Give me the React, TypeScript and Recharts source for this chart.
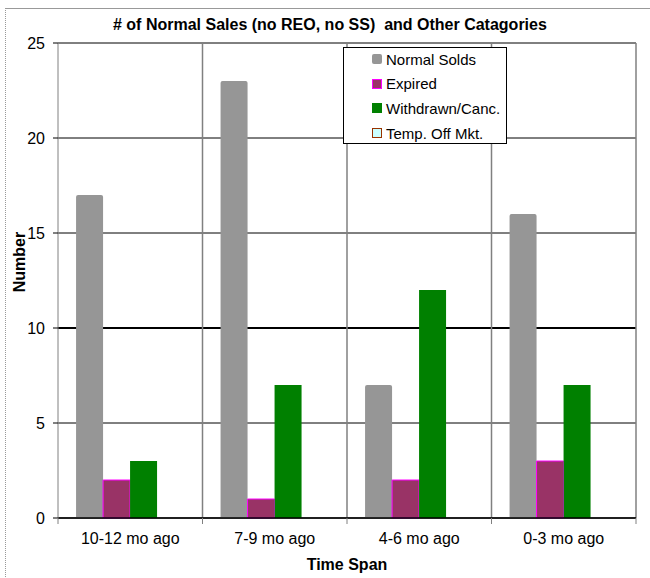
import React from 'react';
import { BarChart, Bar, XAxis, YAxis, CartesianGrid, ReferenceLine, Legend } from 'recharts';

const categories = ['10-12 mo ago', '7-9 mo ago', '4-6 mo ago', '0-3 mo ago'];
const normalSolds = [17, 23, 7, 16];
const expired = [2, 1, 2, 3];
const withdrawn = [3, 7, 12, 7];
const tempOffMkt = [0, 0, 0, 0];
const yTicks = [0, 5, 10, 15, 20, 25];
const emphasisTicks = [10];

const data = categories.map((c, i) => ({
  cat: c,
  normal: normalSolds[i],
  expired: expired[i],
  withdrawn: withdrawn[i],
  temp: tempOffMkt[i],
}));

const series = [
  { key: 'normal', name: 'Normal Solds', fill: '#969696', stroke: 'none', radius: 2 },
  { key: 'expired', name: 'Expired', fill: '#993366', stroke: '#FF00FF', radius: 0 },
  { key: 'withdrawn', name: 'Withdrawn/Canc.', fill: '#008000', stroke: 'none', radius: 0 },
  { key: 'temp', name: 'Temp. Off Mkt.', fill: '#CCFFFF', stroke: '#993300', radius: 0 },
];

const FONT = '"Liberation Sans", Arial, sans-serif';

const LegendBox = () => (
  <div
    style={{
      position: 'relative',
      width: 164,
      height: 97,
      border: '1px solid #000',
      background: '#fff',
      boxSizing: 'border-box',
      fontFamily: FONT,
      fontSize: 15,
      color: '#000',
    }}
  >
    {series.map((s, i) => (
      <div
        key={s.key}
        style={{ position: 'absolute', left: 28, top: 1 + i * 24.7, height: 20, display: 'flex', alignItems: 'center' }}
      >
        <span
          style={{
            display: 'inline-block',
            width: s.stroke === 'none' ? 10 : 8,
            height: s.stroke === 'none' ? 10 : 8,
            background: s.fill,
            border: s.stroke === 'none' ? 'none' : `1px solid ${s.stroke}`,
            borderRadius: s.radius ? 2 : 0,
            marginRight: 4,
          }}
        />
        <span style={{ whiteSpace: 'nowrap' }}>{s.name}</span>
      </div>
    ))}
  </div>
);

const CatTick = (props: any) => {
  const { x, y, payload, index, visibleTicksCount } = props;
  const half = payload && typeof payload.offset === 'number' ? payload.offset : 0;
  const axisY = y - 15;
  const isLast = visibleTicksCount ? index === visibleTicksCount - 1 : index === categories.length - 1;
  return (
    <g>
      {half > 0 && (
        <line x1={x - half} x2={x - half} y1={axisY} y2={axisY + 6} stroke="#808080" />
      )}
      {half > 0 && isLast && (
        <line x1={x + half} x2={x + half} y1={axisY} y2={axisY + 6} stroke="#808080" />
      )}
      <text x={x} y={y} dy="0.71em" textAnchor="middle" fontSize={16} fill="#000" fontFamily={FONT}>
        {payload.value}
      </text>
    </g>
  );
};

export default function App() {
  return (
    <div style={{ position: 'absolute', left: 0, top: 0, width: 650, height: 578, background: '#fff', overflow: 'hidden' }}>
      <div
        style={{
          position: 'absolute',
          left: 5,
          top: 8,
          width: 660,
          height: 600,
          borderLeft: '1px dotted #999',
          borderTop: '1px solid #999',
        }}
      />
      <div
        style={{
          position: 'absolute',
          left: 113,
          top: 16,
          fontFamily: FONT,
          fontWeight: 'bold',
          fontSize: 16,
          whiteSpace: 'nowrap',
          color: '#000',
        }}
      >
        # of Normal Sales (no REO, no SS)&nbsp; and Other Catagories
      </div>
      <div style={{ position: 'absolute', left: 0, top: 0 }}>
        <BarChart
          width={650}
          height={578}
          data={data}
          margin={{ top: 43, right: 14, bottom: 0, left: 0 }}
          barCategoryGap="12.5%"
          barGap={0}
        >
          <CartesianGrid vertical={false} stroke="#000" />
          <CartesianGrid vertical={false} stroke="#000" strokeWidth={2} {...({ horizontalValues: emphasisTicks } as any)} />
          <XAxis
            dataKey="cat"
            axisLine={{ stroke: '#000', strokeWidth: 1.5 }}
            tickLine={false}
            tickSize={6}
            tickMargin={9}
            height={60}
            tick={<CatTick />}
            label={{
              value: 'Time Span',
              position: 'insideBottom',
              offset: 8,
              style: { fontSize: 16, fontWeight: 'bold', fill: '#000', fontFamily: FONT },
            }}
          />
          <YAxis
            domain={[0, 25]}
            ticks={yTicks}
            width={58}
            tickSize={5}
            tickMargin={8}
            axisLine={{ stroke: '#808080' }}
            tickLine={{ stroke: '#000' }}
            tick={{ fontSize: 16, fill: '#000', fontFamily: FONT }}
          />
          <ReferenceLine y={25} stroke="#808080" />
          {categories.slice(1).map((c) => (
            <ReferenceLine key={c} x={c} position="start" stroke="#808080" strokeWidth={1.5} />
          ))}
          <ReferenceLine x={categories[categories.length - 1]} position="end" stroke="#808080" strokeWidth={1.5} />
          {series.map((s) => (
            <Bar
              key={s.key}
              dataKey={s.key}
              name={s.name}
              fill={s.fill}
              stroke={s.stroke}
              strokeWidth={1}
              radius={s.radius ? [s.radius, s.radius, 0, 0] : 0}
              isAnimationActive={false}
            />
          ))}
          <Legend
            layout="horizontal"
            verticalAlign="middle"
            align="center"
            content={() => <LegendBox />}
            wrapperStyle={{ position: 'absolute', left: 343, top: 47, width: 164, height: 97 }}
          />
        </BarChart>
      </div>
      <svg style={{ position: 'absolute', left: 0, top: 0 }} width={40} height={578}>
        <text
          x={19}
          y={262}
          transform="rotate(-90 19 262)"
          textAnchor="middle"
          dominantBaseline="central"
          fontFamily={FONT}
          fontWeight="bold"
          fontSize={16}
          fill="#000"
        >
          Number
        </text>
      </svg>
    </div>
  );
}
